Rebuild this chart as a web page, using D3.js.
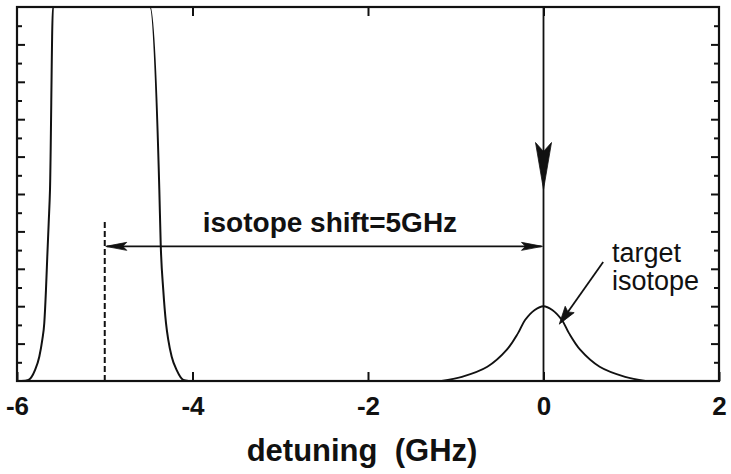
<!DOCTYPE html>
<html>
<head>
<meta charset="utf-8">
<script src="https://cdn.jsdelivr.net/npm/d3@7"></script>
<style>
  html, body { margin: 0; padding: 0; background: #fff; }
  svg { display: block; }
</style>
</head>
<body>
<svg id="chart" width="731" height="474"></svg>
<script>
// ---- data -------------------------------------------------------------
// Horizontal axis: laser detuning in GHz
const xTickValues = [-6, -4, -2, 0, 2];
const xTickLabels = ["-6", "-4", "-2", "0", "2"];
const topTickValues = [-4, -2, 0];

// Vertical axis (arbitrary absorption units, unlabeled)
const yMajorTicks = [1, 2, 3, 4, 5, 6, 7, 8, 9];
const yMinorTicks = [0.5, 1.5, 2.5, 3.5, 4.5, 5.5, 6.5, 7.5, 8.5, 9.5];

// Strong absorption of the abundant isotope near -5 GHz (runs off the top)
const mainPeakX = [-5.95, -5.87, -5.795, -5.746, -5.712, -5.689, -5.670, -5.655, -5.639, -5.624, -5.590,
                   -4.484, -4.378, -4.362, -4.333, -4.302, -4.276, -4.237, -4.180, -4.105, -4.045];
const mainPeakY = [0, 0.03, 0.29, 0.65, 1.10, 1.55, 2.43, 3.32, 4.22, 5.11, 10,
                   10, 5.11, 3.64, 2.43, 1.55, 1.10, 0.65, 0.29, 0.03, 0];

// Weak absorption of the target isotope centred at 0 GHz
const targetX = [-1.16, -0.93, -0.64, -0.42, -0.29, -0.21, -0.10, 0, 0.10, 0.21, 0.29, 0.42, 0.64, 0.93, 1.16];
const targetY = [0, 0.11, 0.38, 0.83, 1.28, 1.63, 1.90, 2.0, 1.90, 1.63, 1.28, 0.83, 0.38, 0.11, 0];

// Annotations
const shiftFrom = -5;          // GHz, centre of the abundant isotope
const shiftTo = 0;             // GHz, laser tuned to target isotope
const shiftLabel = "isotope shift=5GHz";
const targetLabel = ["target", "isotope"];
const xTitle = "detuning  (GHz)";

// ---- layout -----------------------------------------------------------
const svg = d3.select("#chart");
const W = 731, H = 474;
const plot = { left: 17, right: 719, top: 7, bottom: 381 };

const x = d3.scaleLinear().domain([-6, 2]).range([plot.left, plot.right]);
const y = d3.scaleLinear().domain([0, 10]).range([plot.bottom, plot.top]);

const ink = "#111";
const font = "'Liberation Sans', Arial, Helvetica, sans-serif";

svg.append("rect").attr("width", W).attr("height", H).attr("fill", "#fff");

svg.append("defs").append("clipPath").attr("id", "plot-clip")
  .append("rect")
  .attr("x", plot.left).attr("y", plot.top)
  .attr("width", plot.right - plot.left).attr("height", plot.bottom - plot.top);

// ---- axes (ticks point inward) ---------------------------------------
function styleAxis(g) {
  g.select(".domain").remove();
  g.selectAll(".tick line").attr("stroke", ink).attr("stroke-width", 2);
}

svg.append("g")
  .attr("transform", `translate(0,${plot.bottom})`)
  .call(d3.axisBottom(x).tickValues(xTickValues)
    .tickFormat((d, i) => xTickLabels[i]).tickSize(-9).tickPadding(16))
  .call(styleAxis)
  .call(g => g.selectAll("text")
    .attr("font-family", font).attr("font-size", 26).attr("font-weight", "bold")
    .attr("fill", ink));

svg.append("g")
  .attr("transform", `translate(0,${plot.top})`)
  .call(d3.axisTop(x).tickValues(topTickValues).tickFormat("").tickSize(-9))
  .call(styleAxis);

const yAxes = [
  [d3.axisLeft, plot.left, yMajorTicks, -8],
  [d3.axisLeft, plot.left, yMinorTicks, -5],
  [d3.axisRight, plot.right, yMajorTicks, -8],
  [d3.axisRight, plot.right, yMinorTicks, -5]
];
yAxes.forEach(([axisFn, px, values, size]) => {
  svg.append("g")
    .attr("transform", `translate(${px},0)`)
    .call(axisFn(y).tickValues(values).tickFormat("").tickSize(size))
    .call(styleAxis);
});

// frame
svg.append("rect")
  .attr("x", plot.left).attr("y", plot.top)
  .attr("width", plot.right - plot.left).attr("height", plot.bottom - plot.top)
  .attr("fill", "none").attr("stroke", ink).attr("stroke-width", 2.2);

// ---- curves ----------------------------------------------------------
const curves = svg.append("g").attr("clip-path", "url(#plot-clip)");

curves.append("path")
  .datum(mainPeakX.map((v, i) => [v, mainPeakY[i]]))
  .attr("d", d3.line().x(d => x(d[0])).y(d => y(d[1])).curve(d3.curveMonotoneX))
  .attr("fill", "none").attr("stroke", ink).attr("stroke-width", 2);

curves.append("path")
  .datum(targetX.map((v, i) => [v, targetY[i]]))
  .attr("d", d3.line().x(d => x(d[0])).y(d => y(d[1])).curve(d3.curveCatmullRom.alpha(0.5)))
  .attr("fill", "none").attr("stroke", ink).attr("stroke-width", 1.9);

// ---- annotations -----------------------------------------------------
const ann = svg.append("g");

// filled arrowhead with a shallow notch, tip at (tx,ty), pointing along angle
function arrowHead(tx, ty, angle, len, half, notch) {
  const ca = Math.cos(angle), sa = Math.sin(angle);
  const pt = (u, v) => [tx - u * ca - v * -sa, ty - u * sa - v * ca];
  const p = [pt(0, 0), pt(len, half), pt(len - notch, 0), pt(len, -half)];
  ann.append("path")
    .attr("d", "M" + p.map(q => q.join(",")).join("L") + "Z")
    .attr("fill", ink).attr("stroke", ink).attr("stroke-width", 0.8);
}

// laser position: vertical line at 0 GHz with downward arrow
ann.append("line")
  .attr("x1", x(shiftTo)).attr("x2", x(shiftTo))
  .attr("y1", y(10)).attr("y2", y(0))
  .attr("stroke", ink).attr("stroke-width", 1.8);
arrowHead(x(shiftTo), y(5.12), Math.PI / 2, 47, 8, 9);

// dashed marker at the abundant isotope centre
ann.append("line")
  .attr("x1", x(shiftFrom)).attr("x2", x(shiftFrom))
  .attr("y1", y(4.25)).attr("y2", y(0))
  .attr("stroke", ink).attr("stroke-width", 2)
  .attr("stroke-dasharray", "6,3");

// double arrow for the isotope shift
const shiftY = y(3.6);
ann.append("line")
  .attr("x1", x(shiftFrom) + 2).attr("x2", x(shiftTo) - 2)
  .attr("y1", shiftY).attr("y2", shiftY)
  .attr("stroke", ink).attr("stroke-width", 1.8);
arrowHead(x(shiftFrom) + 1, shiftY, Math.PI, 21, 4, 4);
arrowHead(x(shiftTo) - 1, shiftY, 0, 21, 4, 4);

ann.append("text")
  .attr("x", x(shiftFrom) + 98).attr("y", y(3.98))
  .attr("font-family", font).attr("font-size", 28).attr("font-weight", "bold")
  .attr("fill", ink)
  .text(shiftLabel);

// pointer to the target isotope peak
const tipX = x(0.18), tipY = y(1.52);
const tailX = x(0.68), tailY = y(3.18);
const ang = Math.atan2(tipY - tailY, tipX - tailX);
ann.append("line")
  .attr("x1", tailX).attr("y1", tailY)
  .attr("x2", tipX - 6 * Math.cos(ang)).attr("y2", tipY - 6 * Math.sin(ang))
  .attr("stroke", ink).attr("stroke-width", 1.8);
arrowHead(tipX, tipY, ang, 18, 5.5, 3);

const tl = ann.append("text")
  .attr("font-family", font).attr("font-size", 27).attr("fill", ink);
targetLabel.forEach((s, i) => {
  tl.append("tspan").attr("x", x(0.78)).attr("y", y(3.19) + i * 28).text(s);
});

// axis title
svg.append("text")
  .attr("x", 362).attr("y", 461)
  .attr("text-anchor", "middle")
  .attr("font-family", font).attr("font-size", 31).attr("font-weight", "bold")
  .attr("fill", ink)
  .attr("xml:space", "preserve")
  .style("white-space", "pre")
  .text(xTitle);
</script>
</body>
</html>
